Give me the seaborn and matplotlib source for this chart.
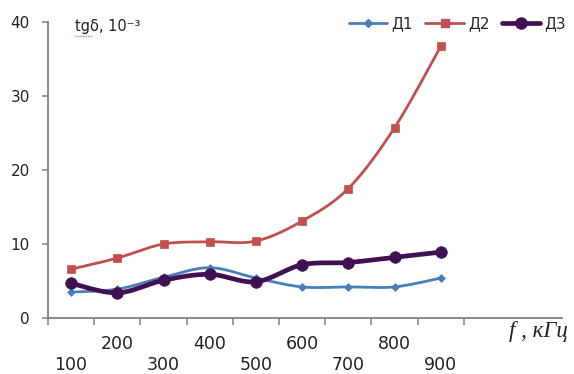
import numpy as np
import pandas as pd
import seaborn as sns
import matplotlib
matplotlib.use("Agg")
import matplotlib.pyplot as plt
from matplotlib.lines import Line2D

# ---- data ----
freq_labels = ["100", "200", "300", "400", "500", "600", "700", "800", "900"]
d1 = [3.5, 3.9, 5.5, 6.8, 5.4, 4.2, 4.2, 4.2, 5.4]
d2 = [6.6, 8.1, 10.0, 10.3, 10.4, 13.1, 17.5, 25.7, 36.7]
d3 = [4.7, 3.4, 5.1, 5.9, 4.9, 7.2, 7.5, 8.2, 8.9]
series_names = ["Д1", "Д2", "Д3"]
y_label = "tgδ, 10⁻³"
x_label = "f , кГц"

sns.set_theme(style="white")
plt.rcParams["font.family"] = ["DejaVu Sans"]

colors = {"Д1": "#4A7EBB", "Д2": "#C0504D", "Д3": "#3F1152"}
markers = {"Д1": "D", "Д2": "s", "Д3": "o"}
msizes = {"Д1": 16, "Д2": 32, "Д3": 70}
lwidths = {"Д1": 2.0, "Д2": 2.0, "Д3": 3.4}

rows = []
for name, vals in zip(series_names, [d1, d2, d3]):
    for i, (lab, v) in enumerate(zip(freq_labels, vals)):
        rows.append({"series": name, "idx": i, "freq": lab, "value": v})
df = pd.DataFrame(rows)


def smooth(xs, ys, n=30):
    # Excel-style smoothed line (Catmull-Rom Bezier) through the data points
    P = np.column_stack([xs, ys]).astype(float)
    out = [P[0]]
    m = len(P)
    for i in range(m - 1):
        p0 = P[i - 1] if i > 0 else P[i]
        p1 = P[i]
        p2 = P[i + 1]
        p3 = P[i + 2] if i + 2 < m else P[i + 1]
        b1 = p1 + (p2 - p0) / 6.0
        b2 = p2 - (p3 - p1) / 6.0
        t = np.linspace(0, 1, n)[1:, None]
        seg = ((1 - t) ** 3) * p1 + 3 * ((1 - t) ** 2) * t * b1 + 3 * (1 - t) * t ** 2 * b2 + t ** 3 * p2
        out.extend(seg)
    out = np.array(out)
    return out[:, 0], out[:, 1]


fig = plt.figure(figsize=(5.74, 3.74), dpi=100)
ax = fig.add_axes([48 / 574, (374 - 318) / 374, (562 - 48) / 574, (318 - 22) / 374])

for name in series_names:
    sub = df[df.series == name]
    sx, sy = smooth(sub["idx"].values, sub["value"].values)
    ax.plot(sx, sy, color=colors[name], lw=lwidths[name], solid_capstyle="round", zorder=2)
    sns.scatterplot(data=sub, x="idx", y="value", marker=markers[name], s=msizes[name],
                    color=colors[name], edgecolor=colors[name], linewidth=0.5,
                    ax=ax, zorder=3, legend=False)

ax.set_xlim(-0.5, -0.5 + (562 - 48) / 46.2)
ax.set_ylim(0, 40)
ax.set_xlabel("")
ax.set_ylabel("")

for s in ["top", "right"]:
    ax.spines[s].set_visible(False)
for s in ["left", "bottom"]:
    ax.spines[s].set_color("#808080")
    ax.spines[s].set_linewidth(1.3)

ax.set_yticks([0, 10, 20, 30, 40])
ax.set_xticks(np.arange(-0.5, len(freq_labels), 1.0))
ax.set_xticklabels([])
ax.tick_params(axis="both", direction="out", color="#808080", width=1.1, bottom=True, left=True)
ax.tick_params(axis="y", length=4, pad=9, labelsize=11, labelcolor="#222222")
ax.tick_params(axis="x", length=5, labelsize=12.5)

# alternating category labels
for i, lab in enumerate(freq_labels):
    off = -47 if i % 2 == 0 else -26
    ax.annotate(lab, xy=(i, 0), xycoords=("data", "axes fraction"),
                xytext=(0, off * 0.72), textcoords="offset points",
                ha="center", va="center", fontsize=12.5, color="#222222")

# axis titles
fig.text(75 / 574, 1 - 27 / 374, y_label, fontsize=10.5, color="#222222", va="center", ha="left")
fig.add_artist(Line2D([75 / 574, 92 / 574], [1 - 36 / 374, 1 - 36 / 374], color="#e06080",
                      lw=0.9, ls=(0, (1, 1))))
fig.text(538 / 574, 1 - 331 / 374, x_label, fontsize=16.5, style="italic",
         family=["Liberation Serif"], color="#222222", ha="center", va="center")

handles = [Line2D([0], [0], color=colors[n], lw=lwidths[n], marker=markers[n],
                  markersize={"Д1": 4, "Д2": 5.5, "Д3": 8}[n]) for n in series_names]
leg = fig.legend(handles, series_names, loc="center right", bbox_to_anchor=(1.0, 1 - 24 / 374),
                 ncol=3, frameon=False, fontsize=11, handlelength=2.5, handletextpad=0.3,
                 columnspacing=0.8, borderaxespad=0.1)

fig.savefig("out.png", dpi=100)
